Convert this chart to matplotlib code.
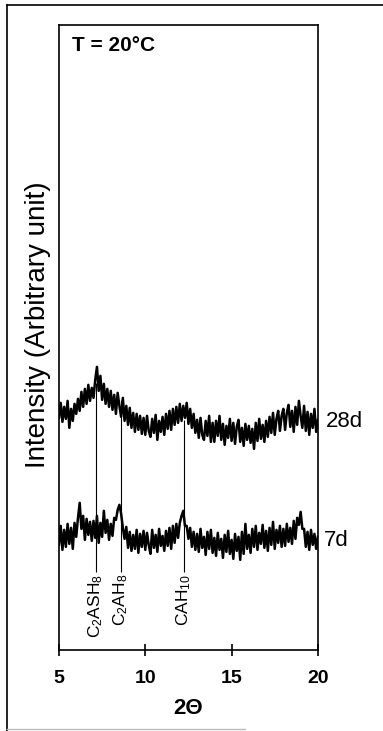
import numpy as np
import matplotlib
matplotlib.use('Agg')
import matplotlib.pyplot as plt
from matplotlib.lines import Line2D

plt.rcParams['font.family'] = ['Liberation Sans', 'DejaVu Sans']
plt.rcParams['mathtext.fontset'] = 'custom'
plt.rcParams['mathtext.rm'] = 'Liberation Sans'
plt.rcParams['mathtext.default'] = 'regular'

# Difractogramas (2 theta de 5 a 20, paso 0.1), intensidad en unidades arbitrarias
two_theta = np.round(np.arange(5.0, 20.05, 0.1), 1)

int_28d = [
    232, 247, 228, 243, 231, 249, 222, 241, 229, 246,
    236, 251, 239, 258, 243, 261, 246, 265, 249, 262,
    252, 270, 283, 259, 274, 250, 266, 246, 261, 243,
    259, 240, 255, 236, 257, 244, 233, 252, 229, 244,
    225, 242, 222, 237, 218, 236, 220, 234, 216, 232,
    215, 234, 219, 213, 231, 217, 235, 210, 229, 218,
    233, 215, 236, 221, 239, 220, 241, 225, 243, 227,
    246, 229, 244, 232, 247, 226, 241, 222, 236, 217,
    230, 212, 232, 215, 210, 229, 214, 234, 208, 227,
    208, 229, 214, 234, 210, 226, 205, 224, 212, 231,
    209, 227, 206, 223, 230, 208, 222, 204, 226, 210,
    224, 207, 221, 201, 227, 209, 231, 211, 225, 208,
    229, 213, 233, 217, 237, 215, 231, 239, 219, 234,
    241, 220, 237, 245, 223, 239, 218, 243, 225, 249,
    234, 222, 244, 219, 238, 215, 236, 222, 241, 218,
    230,
]

int_7d = [
    105, 124, 100, 120, 103, 126, 106, 122, 101, 127,
    113, 132, 147, 121, 134, 110, 131, 115, 128, 109,
    129, 112, 134, 107, 127, 113, 139, 117, 130, 110,
    126, 114, 132, 130, 140, 145, 136, 122, 111, 123,
    102, 118, 99, 115, 101, 120, 97, 116, 103, 119,
    100, 117, 105, 96, 120, 102, 115, 98, 121, 104,
    114, 99, 119, 104, 122, 101, 124, 107, 126, 112,
    127, 134, 139, 124, 124, 111, 122, 103, 118, 100,
    116, 98, 121, 102, 113, 95, 118, 101, 120, 97,
    112, 94, 117, 100, 111, 92, 115, 98, 119, 96,
    110, 91, 116, 99, 113, 90, 118, 96, 126, 101,
    115, 97, 121, 103, 124, 100, 117, 106, 125, 102,
    119, 99, 122, 105, 128, 101, 120, 107, 124, 103,
    121, 104, 126, 108, 122, 106, 129, 111, 132, 125,
    138, 121, 121, 103, 118, 100, 120, 105, 116, 101,
    113,
]

# Fases identificadas: posicion, etiqueta, tope de la linea
fases = [r'C$_2$ASH$_8$', r'C$_2$AH$_8$', r'CAH$_{10}$']
pos_fases = [7.15, 8.6, 12.25]
tope_fases = [267, 250, 230]

fig = plt.figure(figsize=(3.83, 7.31), dpi=100)
ax = fig.add_axes([0.154, 0.111, 0.676, 0.855])

# lineas de referencia de cada fase
ax.vlines(pos_fases, 78, tope_fases, color='black', lw=0.8, zorder=1)
for p, f in zip(pos_fases, fases):
    ax.text(p, 76, f, rotation=90, ha='center', va='top', fontsize=12.5)

ax.plot(two_theta, int_28d, color='black', lw=1.8, zorder=2)
ax.plot(two_theta, int_7d, color='black', lw=1.8, zorder=2)

ax.text(20.45, 228, '28d', ha='left', va='center', fontsize=16, clip_on=False)
ax.text(20.35, 109, '7d', ha='left', va='center', fontsize=16, clip_on=False)
ax.text(0.05, 0.967, 'T = 20°C', transform=ax.transAxes, ha='left', va='center',
        fontsize=15, fontweight='bold')

ax.set_xlim(5, 20)
ax.set_ylim(0, 625)
ax.set_xticks([5, 10, 15, 20])
ax.set_yticks([])
ax.tick_params(axis='x', direction='inout', length=9, width=1.2, labelsize=14, pad=10)
for lab in ax.get_xticklabels():
    lab.set_fontweight('bold')
for s in ax.spines.values():
    s.set_linewidth(1.2)

ax.set_xlabel('2Θ', fontsize=16, fontweight='bold', labelpad=8)
ax.set_ylabel('Intensity (Arbitrary unit)', fontsize=20)
ax.yaxis.set_label_coords(-0.03, 0.52)

# marco exterior
fig.add_artist(Line2D([7/383, 1.0], [1 - 5/731, 1 - 5/731], color='black', lw=1.2))
fig.add_artist(Line2D([7/383, 7/383], [1 - 5/731, 0.0], color='black', lw=1.2))
fig.add_artist(Line2D([7/383, 245/383], [1 - 729/731, 1 - 729/731], color='#bbbbbb', lw=1.0))

fig.savefig('out.png', dpi=100)
